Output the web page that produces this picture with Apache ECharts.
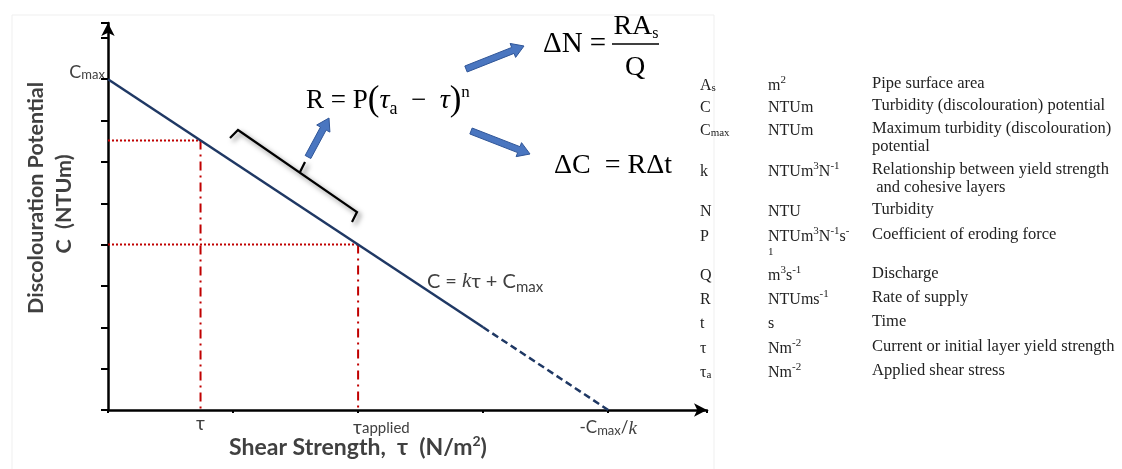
<!DOCTYPE html>
<html>
<head>
<meta charset="utf-8">
<script src="https://cdn.jsdelivr.net/npm/echarts@6/dist/echarts.min.js"></script>
<style>
html,body{margin:0;padding:0;background:#fff}
#main{width:1122px;height:469px}
</style>
</head>
<body>
<div id="main"></div>
<script>
// 曲线数据 (τ, C)
const tauSolid = [0, 3];
const cSolid = [8, 2];
const tauDashed = [3, 4];
const cDashed = [2, 0];
// 红色辅助线: τ 与 τ_applied
const tauMarks = [0.74, 2];
const cMarks = [6.52, 4];
const cMax = 8;
const tauIntercept = 4;

// 右侧符号表
const tableSymbols = ['{n|A}{sb|s}', '{n|C}', '{n|C}{sb|max}', '{n|k}', '{n|N}', '{n|P}', '{n|Q}', '{n|R}', '{n|t}', '{n|τ}', '{n|τ}{sb|a}'];
const tableUnits = ['{n|m}{sp|2}', '{n|NTUm}', '{n|NTUm}', '{n|NTUm}{sp|3}{n|N}{sp|-1}', '{n|NTU}', '{n|NTUm}{sp|3}{n|N}{sp|-1}{n|s}{sp|-}',
    '{n|m}{sp|3}{n|s}{sp|-1}', '{n|NTUms}{sp|-1}', '{n|s}', '{n|Nm}{sp|-2}', '{n|Nm}{sp|-2}'];
const tableDesc = ['Pipe surface area', 'Turbidity (discolouration) potential', 'Maximum turbidity (discolouration)\npotential',
    'Relationship between yield strength\n and cohesive layers', 'Turbidity', 'Coefficient of eroding force', 'Discharge',
    'Rate of supply', 'Time', 'Current or initial layer yield strength', 'Applied shear stress'];
const tableRowY = [84, 106, 129, 170, 210, 235, 274, 298, 322, 347, 371];

const sans = 'Lato, "Open Sans", sans-serif';
const serif = '"Liberation Serif", "DejaVu Serif", serif';
const grey = '#404040';

function pairs(xs, ys){
    return xs.map(function(x, i){ return [x, ys[i]]; });
}

var myChart = echarts.init(document.getElementById('main'));

var series = [];
//红线
for (let i = 0; i < tauMarks.length; i++) {
    series.push({
        type: 'line', showSymbol: false, silent: true,
        data: [[0, cMarks[i]], [tauMarks[i], cMarks[i]]],
        lineStyle: {color: '#c00000', width: 2, type: [2, 2]}
    });
    series.push({
        type: 'line', showSymbol: false, silent: true,
        data: [[tauMarks[i], cMarks[i]], [tauMarks[i], 0]],
        lineStyle: {color: '#c00000', width: 2, type: [9, 5, 2, 5]}
    });
}
series.push({
    type: 'line', showSymbol: false, silent: true,
    data: pairs(tauSolid, cSolid),
    lineStyle: {color: '#1f3864', width: 2.5}
});
series.push({
    type: 'line', showSymbol: false, silent: true,
    data: pairs(tauDashed, cDashed),
    lineStyle: {color: '#1f3864', width: 2.5, type: [7, 4]}
});

var option = {
    animation: false,
    grid: {left: 108, top: 23, right: 415, bottom: 59},
    xAxis: {
        type: 'value', min: 0, max: 4.79, interval: 1,
        axisLine: {lineStyle: {color: '#000', width: 2.5}, symbol: ['none', 'arrow'], symbolSize: [10, 13]},
        axisTick: {show: true, length: 3, lineStyle: {color: '#000', width: 2}},
        axisLabel: {show: false},
        splitLine: {show: false}
    },
    yAxis: {
        type: 'value', min: 0, max: 9.36, interval: 1,
        axisLine: {lineStyle: {color: '#000', width: 2.5}, symbol: ['none', 'arrow'], symbolSize: [10, 13]},
        axisTick: {show: true, length: 7, lineStyle: {color: '#000', width: 2}},
        axisLabel: {show: false},
        splitLine: {show: false}
    },
    series: series
};
myChart.setOption(option);

function px(p){ return myChart.convertToPixel({gridIndex: 0}, p); }

function blockArrow(tail, tip){
    var dx = tip[0] - tail[0], dy = tip[1] - tail[1];
    var len = Math.sqrt(dx * dx + dy * dy);
    var ux = dx / len, uy = dy / len, nx = -uy, ny = ux;
    var sw = 3.2, hw = 7.5, hl = 12;
    var bx = tip[0] - ux * hl, by = tip[1] - uy * hl;
    return {
        type: 'polygon',
        shape: {points: [
            [tail[0] + nx * sw, tail[1] + ny * sw],
            [bx + nx * sw, by + ny * sw],
            [bx + nx * hw, by + ny * hw],
            tip,
            [bx - nx * hw, by - ny * hw],
            [bx - nx * sw, by - ny * sw],
            [tail[0] - nx * sw, tail[1] - ny * sw]
        ]},
        style: {fill: '#4a76c0', stroke: '#2f5597', lineWidth: 1}
    };
}

function txt(x, y, text, style, rot){
    return {
        type: 'text', x: x, y: y, rotation: rot || 0, silent: true,
        style: Object.assign({text: text, textAlign: 'left', textVerticalAlign: 'middle', align: 'left', verticalAlign: 'middle'}, style)
    };
}

var graphics = [];
// 外框
graphics.push({type: 'rect', shape: {x: 12, y: 15, width: 702, height: 470}, style: {fill: 'none', stroke: '#efefef', lineWidth: 1}, silent: true});

// Cmax 标签
var pMax = px([0, cMax]);
graphics.push(txt(pMax[0] - 3, pMax[1] - 8, '{a|C}{s|max}', {
    textAlign: 'right', align: 'right',
    rich: {a: {fontFamily: sans, fontSize: 18, fill: grey, lineHeight: 20, verticalAlign: 'bottom'},
           s: {fontFamily: sans, fontSize: 13, fill: grey, lineHeight: 14, verticalAlign: 'bottom'}}
}));

// x 轴上的标签
var p1 = px([tauMarks[0], 0]);
graphics.push(txt(p1[0], p1[1] + 14, 'τ', {textAlign: 'center', align: 'center', fontFamily: sans, fontSize: 19, fill: grey}));
var p2 = px([tauMarks[1], 0]);
graphics.push(txt(p2[0] - 5, p2[1] + 17, '{a|τ}{s|applied}', {
    rich: {a: {fontFamily: sans, fontSize: 19, fill: grey, lineHeight: 18, verticalAlign: 'top'},
           s: {fontFamily: sans, fontSize: 15, fill: grey, lineHeight: 18, verticalAlign: 'bottom'}}
}));
var p3 = px([tauIntercept, 0]);
graphics.push(txt(p3[0], p3[1] + 18, '{a|-C}{s|max}{a|/}{k|k}', {
    textAlign: 'center', align: 'center',
    rich: {a: {fontFamily: sans, fontSize: 17, fill: grey, lineHeight: 18, verticalAlign: 'top'},
           s: {fontFamily: sans, fontSize: 13, fill: grey, lineHeight: 18, verticalAlign: 'bottom'},
           k: {fontFamily: serif, fontStyle: 'italic', fontSize: 19, fill: grey, lineHeight: 18, verticalAlign: 'top'}}
}));

// 直线方程
var pe = px([2.55, 3.07]);
graphics.push(txt(pe[0], pe[1], '{a|C = }{k|k}{a|τ + C}{s|max}', {
    rich: {a: {fontFamily: sans, fontSize: 20, fill: grey, lineHeight: 22, verticalAlign: 'top'},
           k: {fontFamily: serif, fontStyle: 'italic', fontSize: 21, fill: grey, lineHeight: 22, verticalAlign: 'top'},
           s: {fontFamily: sans, fontSize: 15, fill: grey, lineHeight: 24, verticalAlign: 'bottom'}}
}));

// 轴标题
graphics.push(txt(358, 447, '{a|Shear Strength,  τ  (N/m}{s|2}{a|)}', {
    textAlign: 'center', align: 'center',
    rich: {a: {fontFamily: sans, fontWeight: 'bold', fontSize: 23, fill: grey, lineHeight: 25, verticalAlign: 'bottom'},
           s: {fontFamily: sans, fontWeight: 'bold', fontSize: 14, fill: grey, lineHeight: 25, verticalAlign: 'top'}}
}));
graphics.push(txt(36, 198, 'Discolouration Potential', {textAlign: 'center', align: 'center', fontFamily: sans, fontWeight: 'bold', fontSize: 21.5, fill: grey}, Math.PI / 2));
graphics.push(txt(64, 204, 'C  (NTUm)', {textAlign: 'center', align: 'center', fontFamily: sans, fontWeight: 'bold', fontSize: 21.5, fill: grey}, Math.PI / 2));

// 括号
var shadow = {shadowBlur: 5, shadowOffsetX: 3, shadowOffsetY: 3, shadowColor: 'rgba(0,0,0,0.5)'};
graphics.push({
    type: 'polyline', silent: true,
    shape: {points: [[230, 138], [238, 130], [357, 212], [352, 222]]},
    style: Object.assign({stroke: '#000', lineWidth: 2.2, fill: 'none'}, shadow)
});
graphics.push({
    type: 'line', silent: true,
    shape: {x1: 300, y1: 172, x2: 305, y2: 162},
    style: Object.assign({stroke: '#000', lineWidth: 2.2}, shadow)
});

// 蓝色箭头
graphics.push(blockArrow([308, 157], [329, 118]));
graphics.push(blockArrow([466, 69], [524, 46]));
graphics.push(blockArrow([471, 131], [530, 154]));

// 公式
graphics.push(txt(306, 101, '{n|R = P}{p|(}{i|τ}{sb|a}{n|  −  }{i|τ}{p|)}{sp|n}', {
    rich: {n: {fontFamily: serif, fontSize: 27, fill: '#000', lineHeight: 34, verticalAlign: 'middle'},
           p: {fontFamily: serif, fontSize: 35, fill: '#000', lineHeight: 34, verticalAlign: 'middle'},
           i: {fontFamily: serif, fontStyle: 'italic', fontSize: 28, fill: '#000', lineHeight: 34, verticalAlign: 'middle'},
           sb: {fontFamily: serif, fontSize: 18, fill: '#000', lineHeight: 16, verticalAlign: 'bottom'},
           sp: {fontFamily: serif, fontSize: 17, fill: '#000', lineHeight: 16, verticalAlign: 'top'}}
}));
graphics.push(txt(543, 44, 'ΔN = ', {fontFamily: serif, fontSize: 29, fill: '#000'}));
graphics.push(txt(636, 27, '{n|RA}{sb|s}', {
    textAlign: 'center', align: 'center',
    rich: {n: {fontFamily: serif, fontSize: 28, fill: '#000', lineHeight: 30, verticalAlign: 'middle'},
           sb: {fontFamily: serif, fontSize: 16, fill: '#000', lineHeight: 24, verticalAlign: 'bottom'}}
}));
graphics.push({type: 'line', silent: true, shape: {x1: 612, y1: 44, x2: 659, y2: 44}, style: {stroke: '#000', lineWidth: 1.5}});
graphics.push(txt(635, 68, 'Q', {textAlign: 'center', align: 'center', fontFamily: serif, fontSize: 28, fill: '#000'}));
graphics.push(txt(554, 166, 'ΔC  = RΔt', {fontFamily: serif, fontSize: 28, fill: '#000'}));

// 符号表
var tRich = {
    n: {fontFamily: serif, fontSize: 16, fill: '#222', lineHeight: 19, verticalAlign: 'bottom'},
    sb: {fontFamily: serif, fontSize: 11, fill: '#222', lineHeight: 19, verticalAlign: 'bottom'},
    sp: {fontFamily: serif, fontSize: 11, fill: '#222', lineHeight: 19, verticalAlign: 'top'}
};
for (let i = 0; i < tableSymbols.length; i++) {
    let y = tableRowY[i];
    graphics.push(txt(700, y, tableSymbols[i], {rich: tRich}));
    graphics.push(txt(768, y, tableUnits[i], {rich: tRich}));
    let lines = tableDesc[i].split('\n');
    for (let j = 0; j < lines.length; j++) {
        graphics.push(txt(872, y + j * 18, lines[j], {fontFamily: serif, fontSize: 16.5, fill: '#222'}));
    }
}
graphics.push(txt(768, 252, '1', {fontFamily: serif, fontSize: 11, fill: '#222'}));

myChart.setOption({graphic: graphics});
</script>
</body>
</html>
